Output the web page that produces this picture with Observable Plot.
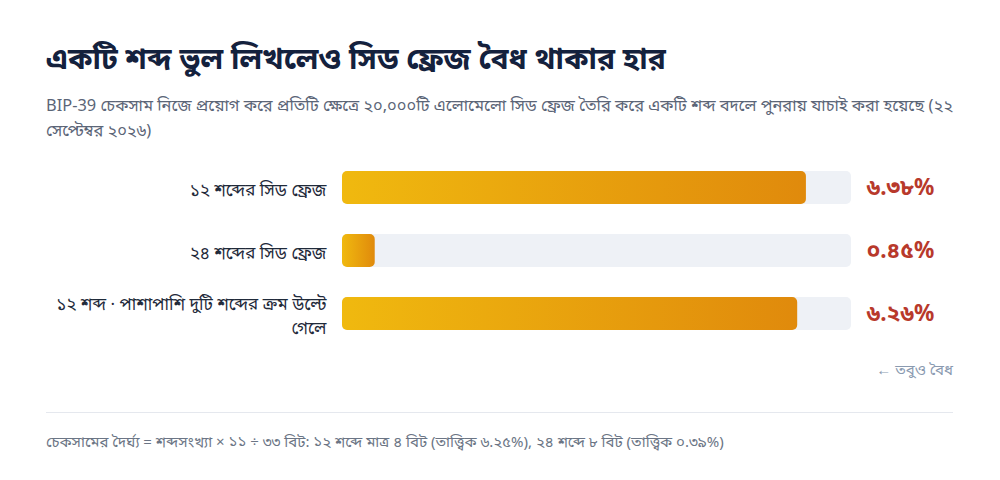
<!DOCTYPE html>
<html>
<head>
<meta charset="utf-8">
<script src="https://cdn.jsdelivr.net/npm/d3@7"></script>
<script src="https://cdn.jsdelivr.net/npm/@observablehq/plot@0.6"></script>
<style>
  html, body { margin: 0; padding: 0; background: #ffffff; }
  body { width: 1000px; height: 480px; overflow: hidden; font-family: "Noto Sans", "Noto Sans Bengali", sans-serif; }
  .wrap { padding: 0 47px 0 46px; }
  h1 { margin: 38px 0 0 0; font-size: 30px; line-height: 40px; font-weight: 700; color: #14213d; white-space: nowrap; }
  .sub { margin-top: 14px; margin-right: -10px; font-size: 16.4px; line-height: 25px; color: #5b6577; }
  #chart { margin-left: -46px; margin-right: -47px; margin-top: 12px; height: 200px; }
  #chart svg { max-width: none; display: block; }
  .note { text-align: right; font-size: 15px; color: #8a9ab0; margin-top: 3px; height: 24px; line-height: 24px; }
  .sep { border-top: 1px solid #e5e8ee; margin-top: 31px; }
  .foot { font-size: 15px; color: #6b7585; margin-top: 16px; line-height: 24px; }
</style>
</head>
<body>
<div class="wrap">
  <h1 id="title"></h1>
  <div class="sub" id="subtitle"></div>
  <div id="chart"></div>
  <div class="note" id="note"></div>
  <div class="sep"></div>
  <div class="foot" id="foot"></div>
</div>
<script>
const titleText = "একটি শব্দ ভুল লিখলেও সিড ফ্রেজ বৈধ থাকার হার";
const subtitleText = "BIP-39 চেকসাম নিজে প্রয়োগ করে প্রতিটি ক্ষেত্রে ২০,০০০টি এলোমেলো সিড ফ্রেজ তৈরি করে একটি শব্দ বদলে পুনরায় যাচাই করা হয়েছে (২২ সেপ্টেম্বর ২০২৬)";
const noteText = "← তবুও বৈধ";
const footText = "চেকসামের দৈর্ঘ্য = শব্দসংখ্যা × ১১ ÷ ৩৩ বিট: ১২ শব্দে মাত্র ৪ বিট (তাত্ত্বিক ৬.২৫%), ২৪ শব্দে ৮ বিট (তাত্ত্বিক ০.৩৯%)";

const categories = [
  "১২ শব্দের সিড ফ্রেজ",
  "২৪ শব্দের সিড ফ্রেজ",
  "১২ শব্দ · পাশাপাশি দুটি শব্দের ক্রম উল্টে গেলে"
];
const labelLines = [
  "১২ শব্দের সিড ফ্রেজ",
  "২৪ শব্দের সিড ফ্রেজ",
  "১২ শব্দ · পাশাপাশি দুটি শব্দের ক্রম উল্টে\nগেলে"
];
const values = [6.38, 0.45, 6.26];
const xMax = 7;

document.getElementById("title").textContent = titleText;
document.getElementById("subtitle").textContent = subtitleText;
document.getElementById("note").textContent = noteText;
document.getElementById("foot").textContent = footText;

const bnDigits = "০১২৩৪৫৬৭৮৯";
const toBn = s => String(s).replace(/[0-9]/g, d => bnDigits[+d]);

const data = categories.map((c, i) => ({cat: c, label: labelLines[i], value: values[i], max: xMax}));

const defs = () => {
  const d = d3.create("svg:defs");
  const g = d.append("linearGradient").attr("id", "barGrad").attr("x1", "0").attr("x2", "1").attr("y1", "0").attr("y2", "0");
  g.append("stop").attr("offset", "0%").attr("stop-color", "#f0b90f");
  g.append("stop").attr("offset", "100%").attr("stop-color", "#e08a0c");
  return d.node();
};

const chart = Plot.plot({
  width: 1000,
  height: 200,
  marginLeft: 342,
  marginRight: 149,
  marginTop: 16,
  marginBottom: 24,
  style: { fontFamily: "'Noto Sans', 'Noto Sans Bengali', sans-serif", background: "transparent", maxWidth: "none" },
  x: { domain: [0, xMax], axis: null },
  y: { domain: categories, axis: null, paddingInner: 0.48, paddingOuter: 0 },
  marks: [
    defs,
    Plot.barX(data, { y: "cat", x1: 0, x2: "max", fill: "#eef1f6", rx: 5 }),
    Plot.barX(data, { y: "cat", x1: 0, x2: "value", fill: "url(#barGrad)", rx: 5 }),
    Plot.text(data, { y: "cat", frameAnchor: "left", text: "label", dx: -16, textAnchor: "end", fontSize: 17, fill: "#1f2a3a", lineHeight: 1.45 }),
    Plot.text(data, { y: "cat", frameAnchor: "right", text: d => toBn(d.value.toFixed(2)) + "%", dx: 15, textAnchor: "start", fontSize: 22.5, fontWeight: 700, fill: "#b8392b" })
  ]
});
document.getElementById("chart").appendChild(chart);
</script>
</body>
</html>
